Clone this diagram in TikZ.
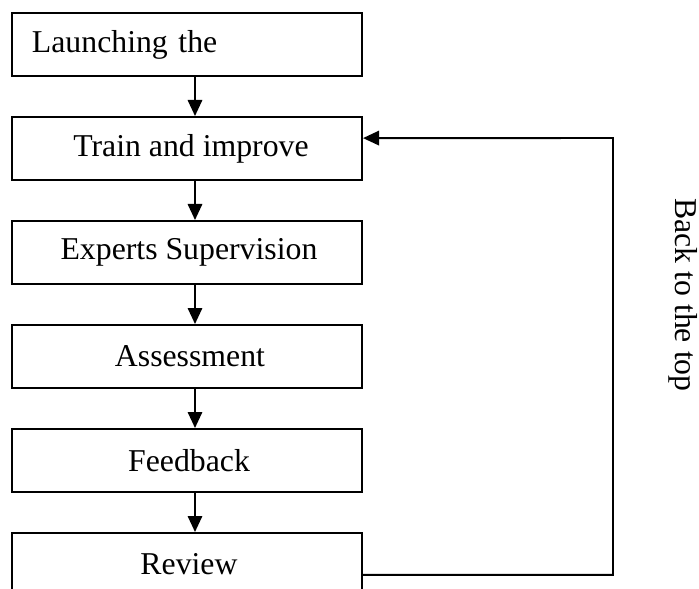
\documentclass[tikz,border=0pt]{standalone}
\usepackage{fontspec}
\setmainfont{Liberation Serif}
\usetikzlibrary{arrows.meta,positioning,calc}

\begin{document}
\begin{tikzpicture}[x=0.025cm, y=-0.025cm, >={Triangle[length=0.4cm,width=0.36cm]},
      stage/.style={rectangle,draw=black,line width=1.4pt,minimum width=8.75cm,
        minimum height=1.575cm,inner sep=0pt,font=\fontsize{22.6}{26}\selectfont},
      flow/.style={line width=1.4pt,->}]
      \useasboundingbox (0,0) rectangle (699,589);
      \node[stage,text width=7.75cm,inner xsep=0.5cm,align=left] (launch) at (187,44.5) {Launching the};
      \node[stage] (train) at (187,148.5) {\hspace{0.2cm}Train and improve};
      \node[stage] (experts) at (187,252.5) {\hspace{0.1cm}Experts Supervision};
      \node[stage] (assess) at (187,356.5) {\hspace{0.15cm}Assessment};
      \node[stage] (feedback) at (187,460.5) {\hspace{0.1cm}Feedback};
      \node[stage] (review) at (187,564.5) {\hspace{0.1cm}Review};
      \coordinate (turn) at (613,138);
      \node[rotate=-90,font=\fontsize{22.6}{26}\selectfont] (back) at (683,295) {Back to the top};
      \draw[flow] ([xshift=0.2cm]launch.south) -- ([xshift=0.2cm]train.north);
      \draw[flow] ([xshift=0.2cm]train.south) -- ([xshift=0.2cm]experts.north);
      \draw[flow] ([xshift=0.2cm]experts.south) -- ([xshift=0.2cm]assess.north);
      \draw[flow] ([xshift=0.2cm]assess.south) -- ([xshift=0.2cm]feedback.north);
      \draw[flow] ([xshift=0.2cm]feedback.south) -- ([xshift=0.2cm]review.north);
      \draw[flow] ([yshift=-0.26cm]review.east) -| (turn) -- ([yshift=0.26cm]train.east);
    \end{tikzpicture}
\end{document}
